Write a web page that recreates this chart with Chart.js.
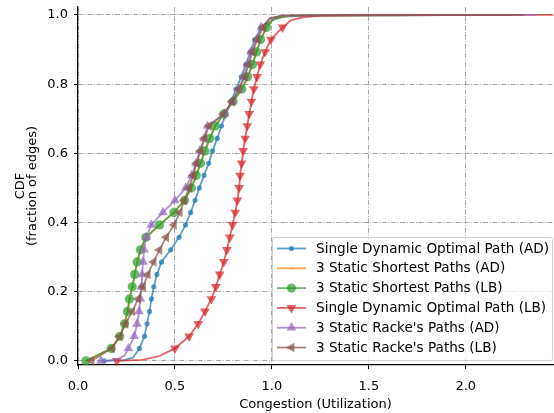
<!DOCTYPE html>
<html>
<head>
<meta charset="utf-8">
<script src="https://cdn.jsdelivr.net/npm/chart.js@4.4.0/dist/chart.umd.min.js"></script>
<style>
  html, body { margin: 0; padding: 0; background: #fff; }
  #wrap { width: 554px; height: 413px; }
</style>
</head>
<body>
<div id="wrap"><canvas id="cdf-chart" width="554" height="413"></canvas></div>
<script>
// CDF of per-edge congestion for the six routing schemes

// CDF levels where markers sit (same for every curve)
const cdfLevels = [0.000, 0.036, 0.071, 0.107, 0.143, 0.179, 0.214, 0.250, 0.286, 0.321,
  0.357, 0.393, 0.429, 0.464, 0.500, 0.536, 0.571, 0.607, 0.643, 0.679,
  0.714, 0.750, 0.786, 0.821, 0.857, 0.893, 0.929, 0.964];

// congestion value of each curve at the levels above
const dynOptAd = [0.135, 0.317, 0.343, 0.356, 0.369, 0.379, 0.391, 0.407, 0.431, 0.478,
  0.521, 0.555, 0.581, 0.604, 0.626, 0.650, 0.674, 0.694, 0.718, 0.740,
  0.764, 0.790, 0.815, 0.842, 0.866, 0.888, 0.912, 0.945];
const shortAd = [0.043, 0.174, 0.217, 0.241, 0.257, 0.267, 0.281, 0.293, 0.306, 0.323,
  0.351, 0.421, 0.494, 0.549, 0.584, 0.610, 0.632, 0.655, 0.680, 0.708,
  0.752, 0.800, 0.845, 0.875, 0.900, 0.921, 0.942, 0.972];
const shortLb = [0.041, 0.172, 0.215, 0.240, 0.255, 0.265, 0.280, 0.292, 0.305, 0.322,
  0.350, 0.420, 0.495, 0.550, 0.585, 0.610, 0.632, 0.655, 0.680, 0.708,
  0.752, 0.800, 0.845, 0.875, 0.900, 0.921, 0.942, 0.972];
const dynOptLb = [0.200, 0.500, 0.573, 0.620, 0.655, 0.688, 0.711, 0.731, 0.752, 0.768,
  0.783, 0.797, 0.811, 0.822, 0.831, 0.836, 0.844, 0.852, 0.862, 0.873,
  0.883, 0.895, 0.907, 0.923, 0.940, 0.965, 0.995, 1.055];
const rackeAd = [0.118, 0.260, 0.290, 0.305, 0.315, 0.322, 0.326, 0.330, 0.336, 0.341,
  0.352, 0.378, 0.438, 0.500, 0.556, 0.586, 0.608, 0.628, 0.650, 0.668,
  0.755, 0.797, 0.830, 0.855, 0.873, 0.893, 0.922, 0.945];
const rackeLb = [0.070, 0.175, 0.215, 0.245, 0.280, 0.310, 0.335, 0.360, 0.390, 0.420,
  0.455, 0.495, 0.525, 0.548, 0.573, 0.594, 0.612, 0.632, 0.652, 0.676,
  0.750, 0.795, 0.830, 0.860, 0.880, 0.900, 0.925, 0.955];

// line-only points between markers and out to the tail
const dynOptAdTail = [[0.240, 0.002], [0.285, 0.010], [1.000, 0.984], [1.060, 0.995], [1.200, 0.999], [2.200, 1.000]];
const shortAdTail = [[1.010, 0.990], [1.100, 0.998], [2.250, 1.000]];
const shortLbTail = [[1.010, 0.990], [1.100, 0.998], [2.250, 1.000]];
const dynOptLbTail = [[0.330, 0.003], [0.420, 0.014], [1.100, 0.985], [1.160, 0.993], [1.250, 0.998], [1.500, 1.000], [2.450, 1.000]];
const rackeAdTail = [[0.200, 0.003], [0.240, 0.015], [0.990, 0.990], [1.050, 0.998], [2.370, 1.000]];
const rackeLbTail = [[0.990, 0.990], [1.050, 0.998], [2.300, 1.000]];

const seriesLabels = [
  'Single Dynamic Optimal Path (AD)',
  '3 Static Shortest Paths (AD)',
  '3 Static Shortest Paths (LB)',
  'Single Dynamic Optimal Path (LB)',
  "3 Static Racke's Paths (AD)",
  "3 Static Racke's Paths (LB)"
];
const xTicks = [0, 0.5, 1.0, 1.5, 2.0];
const yTicks = [0, 0.2, 0.4, 0.6, 0.8, 1.0];

const FONT = 'DejaVu Sans';
const ALPHA = 0.72;

function rgba(hex, a) {
  const n = parseInt(hex.slice(1), 16);
  return `rgba(${(n >> 16) & 255},${(n >> 8) & 255},${n & 255},${a})`;
}

// marker look per series
const styles = [
  { color: '#1f77b4', shape: 'circle', radius: 2.6, rotation: 0 },
  { color: '#ff7f0e', shape: 'circle', radius: 1.0, rotation: 0 },
  { color: '#2ca02c', shape: 'circle', radius: 4.6, rotation: 0 },
  { color: '#d62728', shape: 'triangle', radius: 5.6, rotation: 180 },
  { color: '#9467bd', shape: 'triangle', radius: 5.6, rotation: 0 },
  { color: '#8c564b', shape: 'triangle', radius: 5.6, rotation: 270 }
];

function buildPoints(xs, extra) {
  const pts = xs.map((x, i) => ({ x: x, y: cdfLevels[i], mark: true }));
  extra.forEach(p => pts.push({ x: p[0], y: p[1], mark: false }));
  pts.sort((p, q) => (p.y - q.y) || (p.x - q.x));
  return pts;
}

const seriesX = [dynOptAd, shortAd, shortLb, dynOptLb, rackeAd, rackeLb];
const seriesTail = [dynOptAdTail, shortAdTail, shortLbTail, dynOptLbTail, rackeAdTail, rackeLbTail];

const datasets = seriesX.map((xs, i) => {
  const s = styles[i];
  return {
    label: seriesLabels[i],
    data: buildPoints(xs, seriesTail[i]),
    borderColor: rgba(s.color, ALPHA),
    backgroundColor: rgba(s.color, ALPHA),
    borderWidth: 1.8,
    pointStyle: s.shape,
    pointRotation: s.rotation,
    pointRadius: ctx => (ctx.raw && ctx.raw.mark ? s.radius : 0),
    pointBorderWidth: 0,
    pointBackgroundColor: rgba(s.color, ALPHA),
    tension: 0,
    clip: 8,
    order: seriesX.length - i
  };
});

function drawMarker(ctx, s, x, y) {
  ctx.beginPath();
  if (s.shape === 'circle') {
    ctx.arc(x, y, s.radius, 0, Math.PI * 2);
  } else {
    let rad = s.rotation * Math.PI / 180;
    for (let k = 0; k < 3; k++) {
      const px = x + Math.sin(rad) * s.radius;
      const py = y - Math.cos(rad) * s.radius;
      if (k === 0) ctx.moveTo(px, py); else ctx.lineTo(px, py);
      rad += Math.PI * 2 / 3;
    }
    ctx.closePath();
  }
  ctx.fill();
}

// legend box in the lower right corner of the plot
const legendBox = {
  id: 'legendBox',
  afterDraw(chart) {
    const ctx = chart.ctx;
    const area = chart.chartArea;
    const w = 280, h = 123;
    const right = area.right - 1, bottom = area.bottom - 5;
    const left = right - w, top = bottom - h;
    ctx.save();
    ctx.fillStyle = 'rgba(255,255,255,0.8)';
    ctx.strokeStyle = 'rgba(204,204,204,0.9)';
    ctx.lineWidth = 1;
    ctx.beginPath();
    ctx.roundRect(left + 0.5, top + 0.5, w, h, 2);
    ctx.fill();
    ctx.stroke();
    ctx.font = `13.6px "${FONT}"`;
    ctx.textBaseline = 'middle';
    seriesLabels.forEach((label, i) => {
      const s = styles[i];
      const cy = top + 11.5 + i * 19.8;
      ctx.strokeStyle = rgba(s.color, ALPHA);
      ctx.lineWidth = 1.8;
      ctx.beginPath();
      ctx.moveTo(left + 5, cy);
      ctx.lineTo(left + 34, cy);
      ctx.stroke();
      ctx.fillStyle = rgba(s.color, ALPHA);
      drawMarker(ctx, s, left + 19.5, cy);
      ctx.fillStyle = '#000';
      ctx.fillText(label, left + 44, cy + 0.5);
    });
    ctx.restore();
  }
};

const gridDash = [5, 1.6, 1, 1.6];

// keep the plot box fixed: no extra room for edge tick labels
function noLabelPadding(scale) {
  scale.paddingLeft = 0;
  scale.paddingRight = 0;
  scale.paddingTop = 0;
  scale.paddingBottom = 0;
}

new Chart(document.getElementById('cdf-chart'), {
  type: 'line',
  data: { datasets },
  options: {
    responsive: false,
    animation: false,
    devicePixelRatio: 1,
    layout: { autoPadding: false, padding: { left: 0, right: 1, top: 7, bottom: 0 } },
    plugins: { legend: { display: false }, tooltip: { enabled: false } },
    scales: {
      x: {
        type: 'linear',
        min: 0,
        max: 2.45,
        afterBuildTicks: scale => { scale.ticks = xTicks.map(v => ({ value: v })); },
        afterFit: scale => { scale.height = 48; noLabelPadding(scale); },
        ticks: {
          color: '#000',
          padding: 10,
          maxRotation: 0,
          font: { family: FONT, size: 13 },
          callback: v => Number(v).toFixed(1)
        },
        grid: {
          color: 'rgba(120,120,120,0.8)',
          lineWidth: 0.8,
          tickColor: '#000',
          tickLength: 4,
          tickWidth: 1,
          tickBorderDash: []
        },
        border: { display: true, color: '#000', width: 1.2, dash: gridDash },
        title: {
          display: true,
          text: 'Congestion (Utilization)',
          color: '#000',
          font: { family: FONT, size: 13 },
          padding: { top: 0, bottom: 1 }
        }
      },
      y: {
        type: 'linear',
        min: -0.012,
        max: 1.023,
        afterBuildTicks: scale => { scale.ticks = yTicks.map(v => ({ value: v })); },
        afterFit: scale => { scale.width = 78; noLabelPadding(scale); },
        ticks: {
          color: '#000',
          padding: 6,
          font: { family: FONT, size: 13 },
          callback: v => Number(v).toFixed(1)
        },
        grid: {
          color: 'rgba(120,120,120,0.8)',
          lineWidth: 0.8,
          tickColor: '#000',
          tickLength: 4,
          tickWidth: 1,
          tickBorderDash: []
        },
        border: { display: true, color: '#000', width: 1.2, dash: gridDash },
        title: {
          display: true,
          text: ['CDF', '(fraction of edges)'],
          color: '#000',
          font: { family: FONT, size: 13, lineHeight: 0.9 },
          padding: { top: 15, bottom: 0 }
        }
      }
    }
  },
  plugins: [legendBox]
});
</script>
</body>
</html>
